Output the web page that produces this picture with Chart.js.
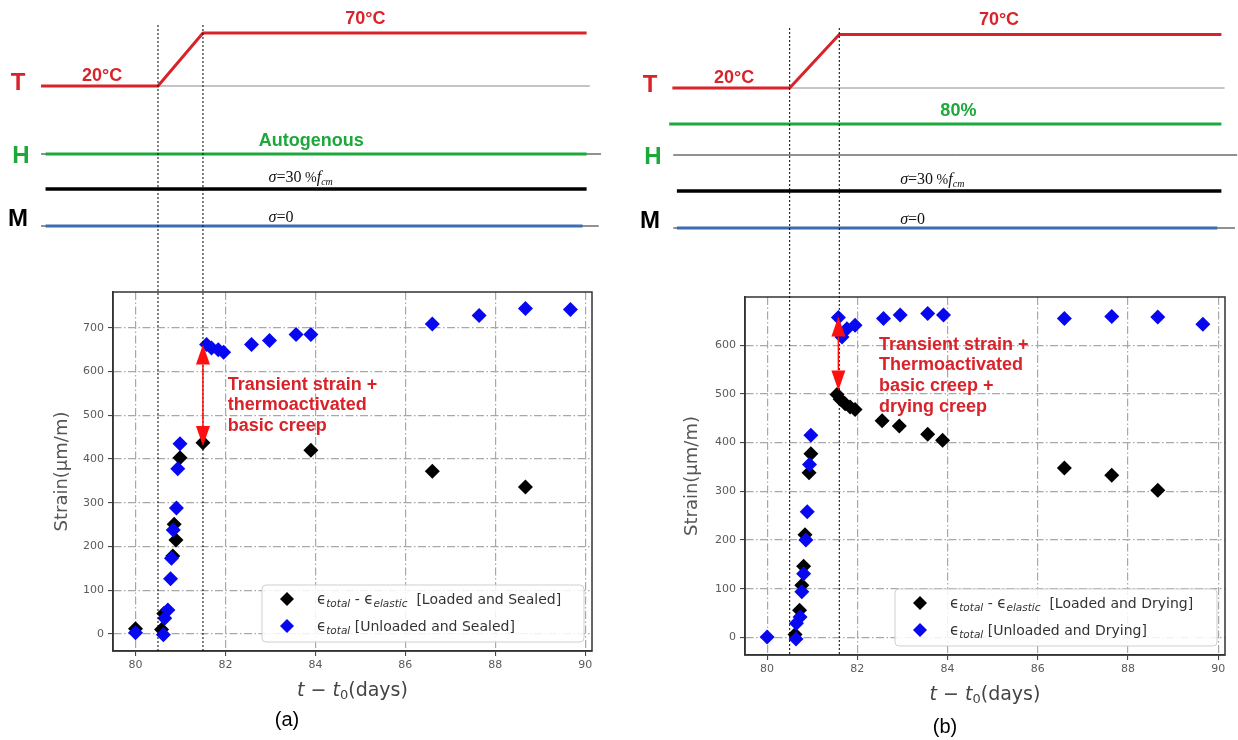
<!DOCTYPE html>
<html>
<head>
<meta charset="utf-8">
<script src="https://cdn.jsdelivr.net/npm/chart.js@4.4.0/dist/chart.umd.min.js"></script>
<style>
  html, body { margin: 0; padding: 0; background: #fff; }
  #wrap { position: relative; width: 1238px; height: 740px; overflow: hidden; }
  canvas { position: absolute; top: 0; display: block; }
</style>
</head>
<body>
<div id="wrap">
  <canvas id="chart-a" width="619" height="740" style="left:0"></canvas>
  <canvas id="chart-b" width="619" height="740" style="left:619px"></canvas>
</div>
<script>
// ---- data ----
const xTicks = [80, 82, 84, 86, 88, 90];
const yTicksA = [0, 100, 200, 300, 400, 500, 600, 700];
const yTicksB = [0, 100, 200, 300, 400, 500, 600];

// (a) sealed
const sealedLoadedX = [80.0, 80.58, 80.63, 80.83, 80.86, 80.9, 80.99, 81.5, 83.9, 86.6, 88.67];
const sealedLoadedY = [12, 10, 47, 178, 251, 215, 403, 437, 420, 372, 336];
const sealedFreeX = [80.0, 80.62, 80.65, 80.72, 80.78, 80.8, 80.84, 80.91, 80.94, 80.99, 81.58, 81.69, 81.84, 81.96, 82.58, 82.98, 83.57, 83.9, 86.6, 87.64, 88.67, 89.67];
const sealedFreeY = [3, -2, 36, 55, 126, 173, 238, 288, 378, 435, 662, 654, 650, 644, 662, 671, 685, 685, 709, 728, 744, 742];

// (b) drying
const dryLoadedX = [80.62, 80.72, 80.77, 80.81, 80.84, 80.93, 80.97, 81.55, 81.62, 81.73, 81.84, 81.95, 82.55, 82.93, 83.56, 83.89, 86.59, 87.64, 88.66];
const dryLoadedY = [6, 56, 107, 146, 211, 338, 377, 499, 489, 480, 473, 468, 445, 434, 417, 405, 348, 333, 302];
const dryFreeX = [80.0, 80.64, 80.65, 80.73, 80.77, 80.81, 80.86, 80.89, 80.94, 80.97, 81.58, 81.66, 81.77, 81.95, 82.58, 82.95, 83.56, 83.91, 86.59, 87.64, 88.66, 89.66];
const dryFreeY = [1, -3, 29, 42, 94, 131, 200, 258, 355, 415, 657, 617, 634, 641, 655, 662, 665, 662, 655, 659, 658, 643];

// loading history sketched above each plot
const tempTimesA = [77.9, 80.5, 81.5, 90.03];
const tempTimesB = [77.9, 80.5, 81.6, 90.07];
const tempValues = [20, 70];            // °C before / after heating
const tempLabels = ['20°C', '70°C'];
const stressLevels = [30, 0];           // % of f_cm : loaded, unloaded
const phasesA = [80.5, 81.5];
const phasesB = [80.5, 81.6];

const arrowA = { x: 81.5, from: 430, to: 662 };
const arrowB = { x: 81.58, from: 507, to: 659 };
const noteA = ['Transient strain +', 'thermoactivated', 'basic creep'];
const noteB = ['Transient strain +', 'Thermoactivated', 'basic creep +', 'drying creep'];

const RED = '#d8232a', GREEN = '#1da83b', BLUE_LINE = '#3b6db4', BLUE = '#0707f0';
const SANS = '"DejaVu Sans", sans-serif';
const ARIAL = '"Liberation Sans", Arial, sans-serif';
const SERIF = '"Liberation Serif", "DejaVu Serif", serif';

function pts(xs, ys) { return xs.map((x, i) => ({ x, y: ys[i] })); }

function rich(c, parts, x, y, align) {
  let w = 0;
  parts.forEach(p => { c.font = p.font; p.w = c.measureText(p.t).width; w += p.w; });
  let cx = align === 'center' ? x - w / 2 : x;
  c.textAlign = 'left'; c.textBaseline = 'alphabetic';
  parts.forEach(p => { c.font = p.font; c.fillText(p.t, cx, y + (p.dy || 0)); cx += p.w; });
  return w;
}

function seg(c, x1, y1, x2, y2, color, w, dash) {
  c.save();
  c.strokeStyle = color; c.lineWidth = w; c.setLineDash(dash || []);
  c.beginPath(); c.moveTo(x1, y1); c.lineTo(x2, y2); c.stroke();
  c.restore();
}

function drawSchematic(chart, P) {
  const c = chart.ctx, a = chart.chartArea;
  const px = v => chart.scales.x.getPixelForValue(v);
  const L = P.sch;
  c.save();
  // T row
  seg(c, px(P.phases[0]), L.tBase, px(L.lineEnd + 0.07), L.tBase, '#8a8a8a', 1);
  c.strokeStyle = RED; c.lineWidth = 3; c.lineJoin = 'round';
  c.beginPath();
  P.tempTimes.forEach((t, i) => {
    const v = i < 2 ? tempValues[0] : tempValues[1];
    const yy = L.tBase - (v - tempValues[0]) * L.tScale;
    i ? c.lineTo(px(t), yy) : c.moveTo(px(t), yy);
  });
  c.stroke();
  // H row
  seg(c, px(L.thinStart), L.hBase, px(L.thinEnd), L.hBase, '#222', 1);
  seg(c, px(L.greenStart), L.hBase - L.hLift, px(L.lineEnd), L.hBase - L.hLift, GREEN, 3);
  // M row
  seg(c, px(L.thinStart), L.mBase, px(L.thinEnd - 0.05), L.mBase, '#222', 1);
  stressLevels.forEach((s, i) => {
    const yy = L.mBase - s * L.mScale;
    seg(c, px(L.lineStart), yy, px(i ? L.lineEnd - 0.09 : L.lineEnd), yy, i ? BLUE_LINE : '#000', i ? 3 : 3.5);
  });
  // phase markers, run down through the plot
  P.phases.forEach(t => seg(c, px(t), L.vTop, px(t), a.bottom, '#000', 1, [2, 2]));

  // row letters
  c.font = 'bold 24px ' + ARIAL; c.textAlign = 'center'; c.textBaseline = 'middle';
  c.fillStyle = RED; c.fillText('T', L.letterX, L.tBase - 3);
  c.fillStyle = GREEN; c.fillText('H', L.letterX + 3, L.hBase + 2);
  c.fillStyle = '#000'; c.fillText('M', L.letterX, L.mBase - 7);

  c.font = 'bold 18px ' + ARIAL;
  c.fillStyle = RED;
  c.fillText(tempLabels[0], px(L.lowLabelX), L.tBase - 10);
  c.fillText(tempLabels[1], px(L.highLabelX), L.tBase - (tempValues[1] - tempValues[0]) * L.tScale - 14);
  c.fillStyle = GREEN;
  c.fillText(P.humidity, px(L.humLabelX), L.hBase - L.hLift - 13);

  c.fillStyle = '#111';
  const sig = L.sigmaX;
  rich(c, [
    { t: 'σ', font: 'italic 16px ' + SERIF },
    { t: '=30', font: '16px ' + SERIF },
    { t: ' %', font: '14px ' + SERIF },
    { t: 'f', font: 'italic 16px ' + SERIF },
    { t: 'cm', font: 'italic 10px ' + SERIF, dy: 3 }
  ], px(sig), L.mBase - stressLevels[0] * L.mScale - 7.5);
  rich(c, [
    { t: 'σ', font: 'italic 16px ' + SERIF },
    { t: '=0', font: '16px ' + SERIF }
  ], px(sig), L.mBase - 4);
  c.restore();
}

function drawNote(chart, P) {
  const c = chart.ctx;
  const x = chart.scales.x, y = chart.scales.y;
  const ax = x.getPixelForValue(P.arrow.x);
  const yLo = y.getPixelForValue(P.arrow.from), yHi = y.getPixelForValue(P.arrow.to);
  const hl = 20, hw = 7;
  c.save();
  seg(c, ax, yHi + hl, ax, yLo - hl, '#ff1010', 1.5);
  c.fillStyle = '#ff1010';
  c.beginPath(); c.moveTo(ax, yHi); c.lineTo(ax - hw, yHi + hl); c.lineTo(ax + hw, yHi + hl); c.closePath(); c.fill();
  c.beginPath(); c.moveTo(ax, yLo); c.lineTo(ax - hw, yLo - hl); c.lineTo(ax + hw, yLo - hl); c.closePath(); c.fill();
  c.fillStyle = RED; c.font = 'bold 18px ' + ARIAL;
  c.textAlign = 'left'; c.textBaseline = 'middle';
  const tx = x.getPixelForValue(P.noteAt[0]), ty = y.getPixelForValue(P.noteAt[1]);
  P.note.forEach((s, i) => c.fillText(s, tx, ty + i * 20.7));
  c.restore();
}

function drawLegend(chart, P) {
  const c = chart.ctx, a = chart.chartArea;
  const w = 322, h = 57;
  const left = a.right - 8 - w, top = a.bottom - 9 - h;
  c.save();
  c.fillStyle = 'rgba(255,255,255,0.85)'; c.strokeStyle = '#cfcfcf'; c.lineWidth = 1;
  c.beginPath();
  if (c.roundRect) c.roundRect(left, top, w, h, 4); else c.rect(left, top, w, h);
  c.fill(); c.stroke();
  const eps = '\u03f5';
  const rows = [
    [{ t: eps, font: '15px ' + SANS }, { t: 'total', font: 'italic 10.5px ' + SANS, dy: 3 },
     { t: ' - ', font: '14px ' + SANS }, { t: eps, font: '15px ' + SANS },
     { t: 'elastic', font: 'italic 10.5px ' + SANS, dy: 3 }, { t: '  ' + P.labels[0], font: '14px ' + SANS }],
    [{ t: eps, font: '15px ' + SANS }, { t: 'total', font: 'italic 10.5px ' + SANS, dy: 3 },
     { t: ' ' + P.labels[1], font: '14px ' + SANS }]
  ];
  chart.data.datasets.forEach((ds, i) => {
    const ry = top + 14 + i * 27;
    c.fillStyle = ds.backgroundColor;
    if (Chart.helpers && Chart.helpers.drawPoint) {
      Chart.helpers.drawPoint(c, { pointStyle: 'rectRot', radius: 7, borderWidth: 0, rotation: 0 }, left + 25, ry);
    }
    c.fillStyle = '#333';
    rich(c, rows[i], left + 55, ry + 5);
  });
  c.restore();
}

function drawTitles(chart, P) {
  const c = chart.ctx, a = chart.chartArea;
  c.save();
  c.fillStyle = '#444';
  rich(c, [
    { t: 't', font: 'italic 19px ' + SANS }, { t: ' \u2212 ', font: '19px ' + SANS },
    { t: 't', font: 'italic 19px ' + SANS }, { t: '0', font: '13px ' + SANS, dy: 3 },
    { t: '(days)', font: '19px ' + SANS }
  ], (a.left + a.right) / 2, a.bottom + 45, 'center');
  c.fillStyle = '#000'; c.font = '20px ' + ARIAL;
  c.textAlign = 'center'; c.textBaseline = 'alphabetic';
  c.fillText(P.tag, P.tagX, P.tagY);
  c.restore();
}

function makePanel(id, P) {
  const overlay = {
    id: 'overlay',
    beforeDatasetsDraw(chart) {
      const c = chart.ctx, a = chart.chartArea;
      c.save(); c.strokeStyle = '#333'; c.lineWidth = 1.5;
      c.strokeRect(a.left, a.top, a.right - a.left, a.bottom - a.top);
      c.restore();
    },
    afterDatasetsDraw(chart) {
      drawSchematic(chart, P);
      drawNote(chart, P);
      drawLegend(chart, P);
      drawTitles(chart, P);
    }
  };
  const gridCommon = { color: '#a8a8a8', lineWidth: 1.2, tickLength: 5, tickColor: '#333', tickWidth: 1 };
  const borderCommon = { color: '#333', width: 1.5, dash: [8, 2.5, 1.5, 2.5] };
  const tickFont = { family: 'DejaVu Sans', size: 11 };
  return new Chart(document.getElementById(id), {
    type: 'scatter',
    data: {
      datasets: [
        { label: P.labels[0], data: pts(P.loadedX, P.loadedY), pointStyle: 'rectRot', pointRadius: 7.5, pointHoverRadius: 7.5,
          backgroundColor: '#000', borderColor: '#000', borderWidth: 0, order: 1 },
        { label: P.labels[1], data: pts(P.freeX, P.freeY), pointStyle: 'rectRot', pointRadius: 7.5, pointHoverRadius: 7.5,
          backgroundColor: BLUE, borderColor: BLUE, borderWidth: 0, order: 0 }
      ]
    },
    options: {
      responsive: false, animation: false, devicePixelRatio: 1,
      layout: { padding: { left: P.padL, top: P.padT, right: P.padR, bottom: 0 } },
      plugins: { legend: { display: false }, tooltip: { enabled: false } },
      scales: {
        x: {
          type: 'linear', min: P.xMin, max: P.xMax,
          afterBuildTicks: s => { s.ticks = xTicks.map(v => ({ value: v })); },
          afterFit: s => { s.height = P.axisH; },
          grid: gridCommon, border: borderCommon,
          ticks: { color: '#5a5a5a', font: tickFont, padding: 3, maxRotation: 0 }
        },
        y: {
          type: 'linear', min: P.yMin, max: P.yMax,
          afterBuildTicks: s => { s.ticks = P.yTicks.map(v => ({ value: v })); },
          afterFit: s => { s.width = P.axisW; },
          grid: gridCommon, border: borderCommon,
          ticks: { color: '#5a5a5a', font: tickFont, padding: 4 },
          title: { display: true, text: 'Strain(\u03bcm/m)', color: '#555', font: { family: 'DejaVu Sans', size: 18 }, padding: { top: 4, bottom: 0 } }
        }
      }
    },
    plugins: [overlay]
  });
}

makePanel('chart-a', {
  loadedX: sealedLoadedX, loadedY: sealedLoadedY, freeX: sealedFreeX, freeY: sealedFreeY,
  labels: ['[Loaded and Sealed]', '[Unloaded and Sealed]'],
  yTicks: yTicksA, xMin: 79.5, xMax: 90.15, yMin: -39, yMax: 782,
  padL: 48, axisW: 65, padT: 292, padR: 27, axisH: 89,
  tempTimes: tempTimesA, phases: phasesA, humidity: 'Autogenous',
  arrow: arrowA, note: noteA, noteAt: [82.05, 570],
  tag: '(a)', tagX: 287, tagY: 726,
  sch: { tBase: 86, tScale: 1.06, hBase: 154, hLift: 0, mBase: 226, mScale: 1.233,
         thinStart: 77.9, thinEnd: 90.35, lineStart: 78.0, greenStart: 78.0, lineEnd: 90.03, vTop: 25,
         letterX: 18, lowLabelX: 79.26, highLabelX: 85.11, humLabelX: 83.91, sigmaX: 82.96 }
});

makePanel('chart-b', {
  loadedX: dryLoadedX, loadedY: dryLoadedY, freeX: dryFreeX, freeY: dryFreeY,
  labels: ['[Loaded and Drying]', '[Unloaded and Drying]'],
  yTicks: yTicksB, xMin: 79.51, xMax: 90.15, yMin: -36, yMax: 699,
  padL: 59, axisW: 67, padT: 297, padR: 13, axisH: 85,
  tempTimes: tempTimesB, phases: phasesB, humidity: '80%',
  arrow: arrowB, note: noteB, noteAt: [82.48, 601],
  tag: '(b)', tagX: 326, tagY: 733,
  sch: { tBase: 88, tScale: 1.07, hBase: 155, hLift: 31, mBase: 228, mScale: 1.233,
         thinStart: 77.92, thinEnd: 90.42, lineStart: 78.0, greenStart: 77.83, lineEnd: 90.07, vTop: 28,
         letterX: 31, lowLabelX: 79.27, highLabelX: 85.14, humLabelX: 84.24, sigmaX: 82.95 }
});
</script>
</body>
</html>
